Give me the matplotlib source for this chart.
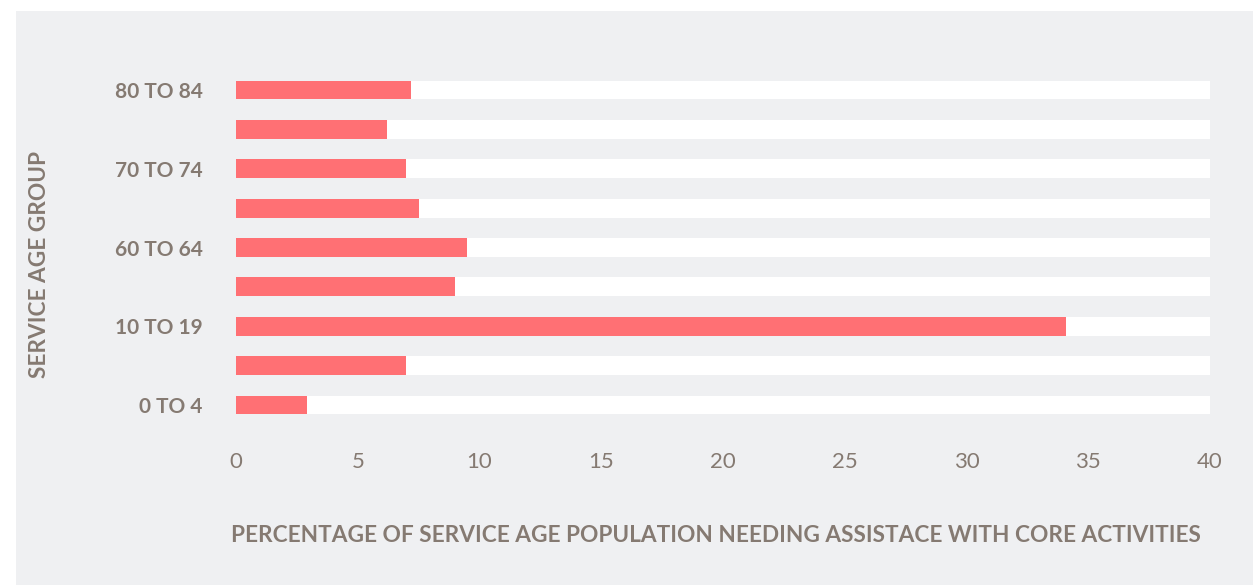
import matplotlib.pyplot as plt
import matplotlib.patches as mpatches

# --- Data ---
age_groups = ["0 TO 4", "5 TO 9", "10 TO 19", "20 TO 59", "60 TO 64",
              "65 TO 69", "70 TO 74", "75 TO 79", "80 TO 84"]
show_label = [True, False, True, False, True, False, True, False, True]
pct_needing_assist = [2.9, 7.0, 34.1, 9.0, 9.5, 7.5, 7.0, 6.2, 7.2]
x_ticks = [0, 5, 10, 15, 20, 25, 30, 35, 40]

BG = "#eff0f2"
BAR = "#ff7074"
TXT = "#857a72"
FONT = ["Lato", "DejaVu Sans"]

fig = plt.figure(figsize=(12.53, 5.85), dpi=100)
fig.patch.set_facecolor("white")
fig.patches.append(mpatches.Rectangle((16 / 1253, 0), 1, 1 - 11 / 585,
                                      transform=fig.transFigure,
                                      facecolor=BG, edgecolor="none", zorder=-10))

ax = fig.add_axes([236 / 1253, 1 - 424.7 / 585, 974 / 1253, 354.4 / 585])
ax.set_facecolor("none")
ax.set_zorder(5)

ypos = range(len(age_groups))
ax.barh(ypos, [40] * len(age_groups), height=0.48, color="white", zorder=1)
ax.barh(ypos, pct_needing_assist, height=0.48, color=BAR, zorder=2)

ax.set_xlim(0, 40)
ax.set_ylim(-0.5, len(age_groups) - 0.5)
ax.set_xticks(x_ticks)
ax.set_xticklabels([str(t) for t in x_ticks], fontsize=16, color=TXT,
                   family=FONT)
ax.set_yticks(list(ypos))
ax.set_yticklabels([g if s else "" for g, s in zip(age_groups, show_label)],
                   fontsize=15, fontweight="bold", color=TXT, family=FONT)
ax.tick_params(axis="x", length=0, pad=20)
ax.tick_params(axis="y", length=0, pad=24)
for lbl in ax.get_yticklabels():
    lbl.set_y(lbl.get_position()[1])
for sp in ax.spines.values():
    sp.set_visible(False)

fig.text(231 / 1253, 1 - 535 / 585,
         "PERCENTAGE OF SERVICE AGE POPULATION NEEDING ASSISTACE WITH CORE ACTIVITIES",
         ha="left", va="center", fontsize=16.3, fontweight="bold", color=TXT,
         family=FONT)
fig.text(40 / 1253, 1 - 265 / 585, "SERVICE AGE GROUP", rotation=90,
         ha="center", va="center", fontsize=16.3, fontweight="bold", color=TXT,
         family=FONT)

fig.savefig("out.png", dpi=100, facecolor=fig.get_facecolor())
